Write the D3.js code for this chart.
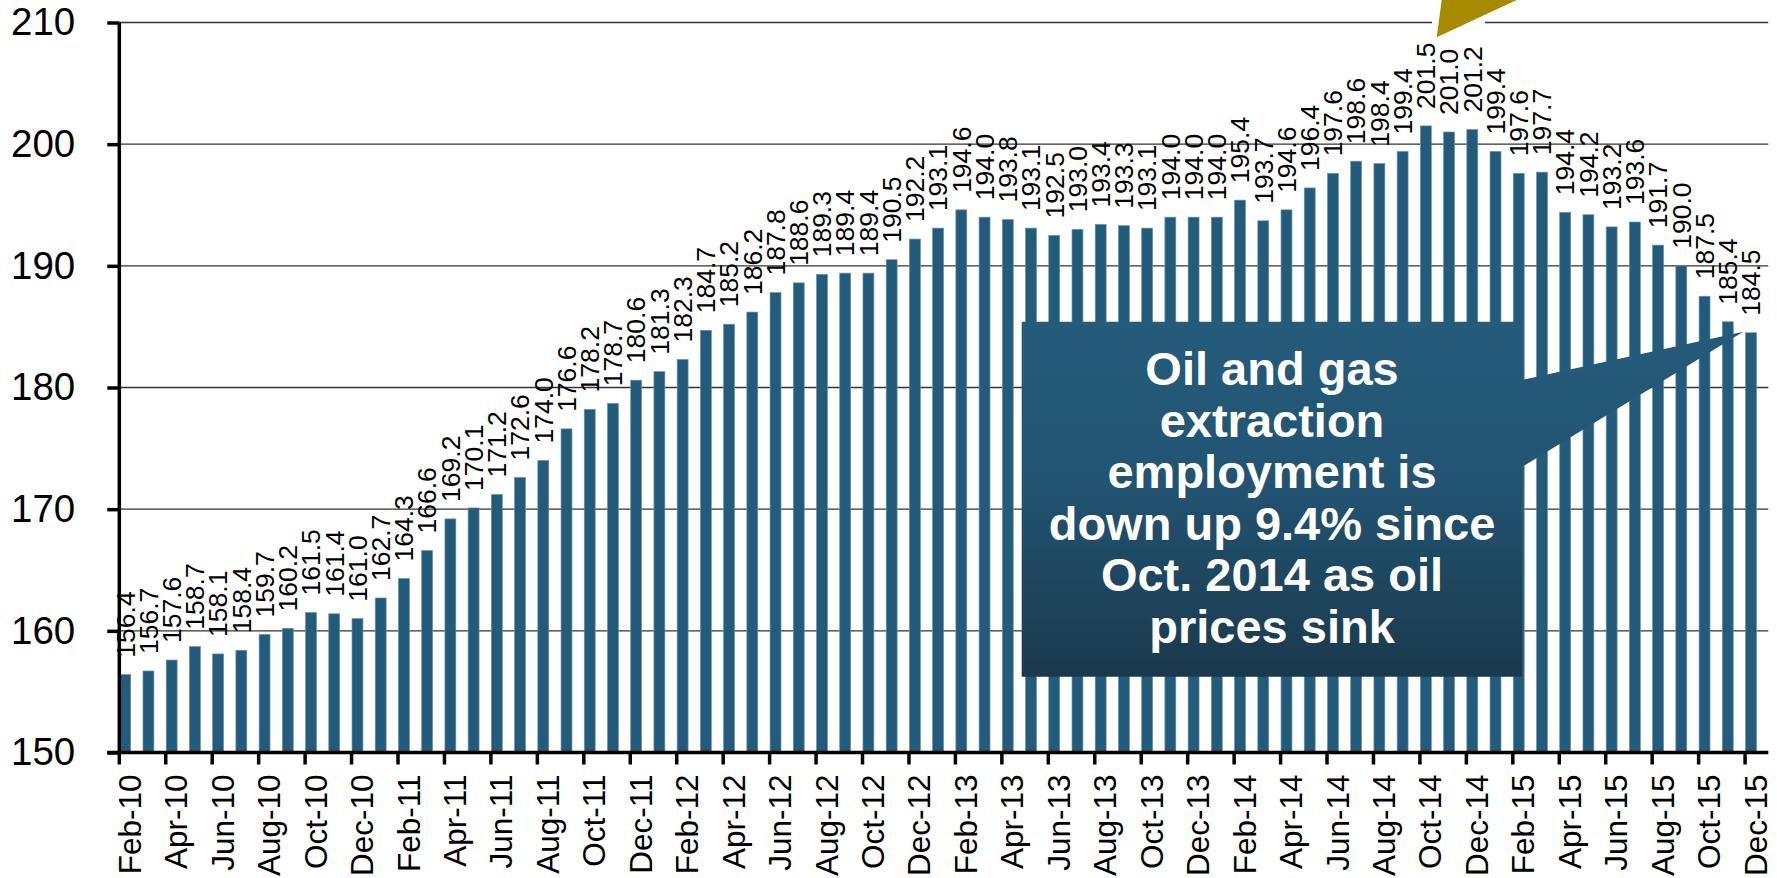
<!DOCTYPE html>
<html>
<head>
<meta charset="utf-8">
<script src="https://cdn.jsdelivr.net/npm/d3@7"></script>
<style>
  html, body { margin: 0; padding: 0; background: #fff; }
  svg { display: block; font-family: "Liberation Sans", Arial, sans-serif; }
</style>
</head>
<body>
<svg id="chart" width="1777" height="878"></svg>
<script>
const months = [
  "Feb-10","Mar-10","Apr-10","May-10","Jun-10","Jul-10","Aug-10","Sep-10","Oct-10","Nov-10","Dec-10",
  "Jan-11","Feb-11","Mar-11","Apr-11","May-11","Jun-11","Jul-11","Aug-11","Sep-11","Oct-11","Nov-11","Dec-11",
  "Jan-12","Feb-12","Mar-12","Apr-12","May-12","Jun-12","Jul-12","Aug-12","Sep-12","Oct-12","Nov-12","Dec-12",
  "Jan-13","Feb-13","Mar-13","Apr-13","May-13","Jun-13","Jul-13","Aug-13","Sep-13","Oct-13","Nov-13","Dec-13",
  "Jan-14","Feb-14","Mar-14","Apr-14","May-14","Jun-14","Jul-14","Aug-14","Sep-14","Oct-14","Nov-14","Dec-14",
  "Jan-15","Feb-15","Mar-15","Apr-15","May-15","Jun-15","Jul-15","Aug-15","Sep-15","Oct-15","Nov-15","Dec-15"
];
const employment = [
  156.4,156.7,157.6,158.7,158.1,158.4,159.7,160.2,161.5,161.4,161.0,
  162.7,164.3,166.6,169.2,170.1,171.2,172.6,174.0,176.6,178.2,178.7,180.6,
  181.3,182.3,184.7,185.2,186.2,187.8,188.6,189.3,189.4,189.4,190.5,192.2,
  193.1,194.6,194.0,193.8,193.1,192.5,193.0,193.4,193.3,193.1,194.0,194.0,
  194.0,195.4,193.7,194.6,196.4,197.6,198.6,198.4,199.4,201.5,201.0,201.2,
  199.4,197.6,197.7,194.4,194.2,193.2,193.6,191.7,190.0,187.5,185.4,184.5
];
const yTicks = [150, 160, 170, 180, 190, 200, 210];
const xTickLabels = months.filter((m, i) => i % 2 === 0);
const calloutLines = [
  "Oil and gas",
  "extraction",
  "employment is",
  "down up 9.4% since",
  "Oct. 2014 as oil",
  "prices sink"
];

(function () {
const svg = d3.select("#chart");
const mLeft = 119.3, mRight = 1768.3, mTop = 22.5, mBottom = 752.5;

const x = d3.scaleBand().domain(months).range([mLeft, mRight]).padding(0);
const y = d3.scaleLinear().domain([150, 210]).range([mBottom, mTop]);
const bw = x.bandwidth();

// defs: gradient for callout
const defs = svg.append("defs");
const grad = defs.append("linearGradient")
  .attr("id", "calloutGrad")
  .attr("gradientUnits", "userSpaceOnUse")
  .attr("x1", 0).attr("y1", 321.7).attr("x2", 0).attr("y2", 676.7);
grad.append("stop").attr("offset", "0").attr("stop-color", "#255B7B");
grad.append("stop").attr("offset", "0.45").attr("stop-color", "#225472");
grad.append("stop").attr("offset", "1").attr("stop-color", "#1A394D");

// gridlines
svg.append("g")
  .selectAll("line")
  .data(yTicks.filter(t => t > 150))
  .join("line")
  .attr("x1", mLeft).attr("x2", mRight)
  .attr("y1", d => y(d)).attr("y2", d => y(d))
  .attr("stroke", "#333")
  .attr("stroke-width", 1.3);

// bars
svg.append("g")
  .selectAll("rect")
  .data(employment)
  .join("rect")
  .attr("x", (d, i) => x(months[i]) + bw * 0.02)
  .attr("width", bw * 0.47)
  .attr("y", d => y(d))
  .attr("height", d => y(150) - y(d))
  .attr("fill", "#235B7B")
  .attr("stroke", "#6A90A8")
  .attr("stroke-width", 0.7);

// data labels
svg.append("g")
  .selectAll("text")
  .data(employment)
  .join("text")
  .attr("transform", (d, i) => `translate(${x(months[i]) + bw * 0.02 + bw * 0.235},${y(d) - 17}) rotate(-90)`)
  .attr("text-anchor", "start")
  .attr("dy", "0.35em")
  .attr("font-size", 26.5)
  .attr("fill", "#000")
  .text(d => d3.format(".1f")(d));

// y axis
const yAxis = svg.append("g")
  .attr("transform", `translate(${mLeft},0)`)
  .call(d3.axisLeft(y).tickValues(yTicks).tickSize(12).tickPadding(32).tickFormat(d3.format("d")));
yAxis.select(".domain").attr("stroke", "#000").attr("stroke-width", 3.5)
  .attr("d", `M0,${mTop}V${mBottom}`);
yAxis.selectAll(".tick line").attr("stroke", "#000").attr("stroke-width", 3.5);
yAxis.selectAll(".tick text").attr("font-size", 38.5).attr("fill", "#000")
  .attr("font-family", "'Liberation Sans', Arial, sans-serif");

// x axis
const xAxis = svg.append("g")
  .attr("transform", `translate(0,${mBottom})`)
  .call(d3.axisBottom(x).tickValues(xTickLabels).tickSize(12).tickSizeOuter(0));
xAxis.select(".domain").attr("stroke", "#000").attr("stroke-width", 3.5)
  .attr("d", `M${mLeft - 12},0H${mRight}`);
xAxis.selectAll(".tick line")
  .attr("x1", -bw / 2).attr("x2", -bw / 2)
  .attr("stroke", "#000").attr("stroke-width", 3.5);
xAxis.selectAll(".tick text")
  .attr("x", null).attr("y", null).attr("dy", "0.35em")
  .attr("transform", `translate(${-bw / 2 + 10.5},22) rotate(-90)`)
  .attr("text-anchor", "end")
  .attr("font-size", 31.5).attr("fill", "#000")
  .attr("font-family", "'Liberation Sans', Arial, sans-serif");

// arrow at top (pointing to Oct-14 peak), with white knock-out behind it
svg.append("rect").attr("x", 1432).attr("y", 17).attr("width", 53).attr("height", 11).attr("fill", "#fff");
svg.append("path")
  .attr("d", "M1436.7,37.3 L1441.7,0 L1516.7,0 Z")
  .attr("fill", "#A68A00");

// callout box with pointer
svg.append("path")
  .attr("d", "M1021.7,321.7 H1522 V380 L1743.3,331.7 L1522,467 V676.7 H1021.7 Z")
  .attr("fill", "url(#calloutGrad)");

svg.append("g")
  .selectAll("text")
  .data(calloutLines)
  .join("text")
  .attr("x", 1272)
  .attr("y", (d, i) => 385 + i * 51.5)
  .attr("text-anchor", "middle")
  .attr("font-size", 47)
  .attr("font-weight", "bold")
  .attr("fill", "#fff")
  .text(d => d);
})();
</script>
</body>
</html>
